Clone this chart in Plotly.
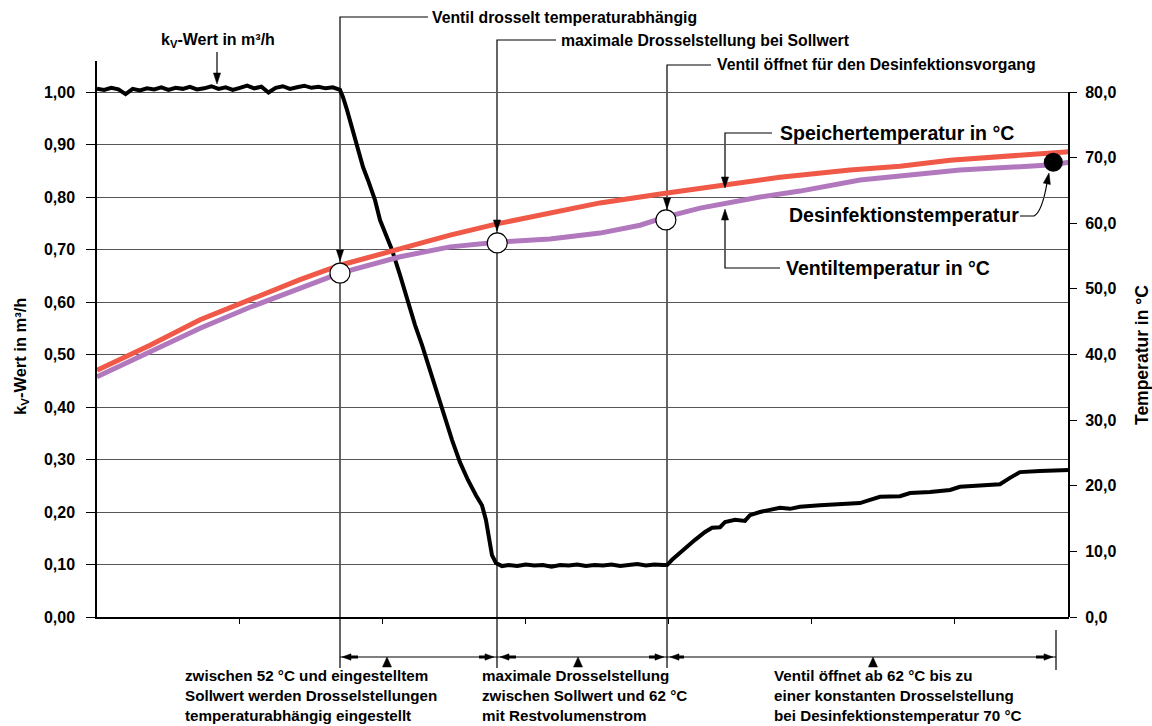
import plotly.graph_objects as go

# ---------------- data ----------------
# kv-value of the valve (left axis, m³/h) over time (arbitrary units)
kv_t = [0.0, 0.5, 1.0, 1.5, 2.0, 2.5, 3.0, 3.5, 4.0, 4.5, 5.0, 5.5, 6.0, 6.5, 7.0, 7.5,
        8.0, 8.5, 9.0, 9.5, 10.0, 10.5, 11.0, 11.5, 12.0, 12.5, 13.0, 13.5, 14.0, 14.5,
        15.0, 15.5, 16.0, 16.5, 17.0,
        17.21, 17.49, 17.84, 18.26, 18.61, 18.96, 19.45, 19.80, 20.29, 20.64, 21.20,
        21.69, 22.25, 22.74, 23.30, 23.86, 24.35, 24.84, 25.39, 25.95, 26.51, 26.93,
        27.21, 27.42, 27.63, 27.91, 28.33,
        28.8, 29.4, 30.0, 30.6, 31.2, 31.8, 32.4, 33.0, 33.6, 34.2, 34.8, 35.4, 36.0,
        36.6, 37.2, 37.8, 38.4, 39.0, 39.6,
        39.88, 40.23, 40.79, 41.35, 41.84, 42.54, 43.03, 43.59, 43.94, 44.64, 45.33,
        45.68, 46.38, 47.08, 47.78, 48.48, 49.18, 50.58, 51.98, 53.38, 54.08, 54.78,
        56.18, 56.88, 58.28, 59.68, 60.37, 61.77, 63.17, 63.87, 64.57, 65.97, 68.0]
kv_val = [1.006, 1.004, 1.008, 1.005, 0.996, 1.006, 1.003, 1.007, 1.005, 1.009, 1.004,
          1.008, 1.006, 1.010, 1.005, 1.007, 1.011, 1.006, 1.009, 1.004, 1.008, 1.012,
          1.007, 1.010, 0.999, 1.008, 1.011, 1.006, 1.009, 1.012, 1.008, 1.010, 1.007,
          1.009, 1.004,
          0.990, 0.966, 0.933, 0.895, 0.857, 0.832, 0.794, 0.756, 0.724, 0.699, 0.651,
          0.604, 0.556, 0.518, 0.470, 0.423, 0.375, 0.337, 0.295, 0.261, 0.232, 0.213,
          0.185, 0.147, 0.118, 0.103, 0.097,
          0.099, 0.097, 0.100, 0.098, 0.099, 0.096, 0.099, 0.098, 0.100, 0.097, 0.099,
          0.098, 0.100, 0.097, 0.099, 0.101, 0.098, 0.100, 0.099,
          0.099, 0.109, 0.122, 0.137, 0.147, 0.162, 0.170, 0.171, 0.181, 0.185, 0.183,
          0.194, 0.200, 0.204, 0.208, 0.206, 0.210, 0.213, 0.215, 0.217, 0.223, 0.229,
          0.230, 0.236, 0.238, 0.242, 0.248, 0.250, 0.253, 0.265, 0.276, 0.278, 0.280]

# storage tank temperature (right axis, °C)
speicher_t = [0.0, 3.71, 7.21, 10.70, 14.20, 17.0, 21.20, 24.70, 27.98, 31.69, 35.19,
              39.88, 43.59, 47.78, 52.68, 56.18, 59.68, 63.17, 68.0]
speicher_temp = [37.6, 41.4, 45.3, 48.3, 51.4, 53.6, 56.2, 58.2, 59.9, 61.6, 63.1,
                 64.6, 65.8, 67.0, 68.1, 68.7, 69.6, 70.2, 70.9]

# valve temperature (right axis, °C)
ventil_t = [0.0, 3.71, 7.21, 10.70, 14.20, 17.0, 21.20, 24.70, 27.98, 31.69, 35.19,
            37.99, 39.88, 42.19, 46.38, 49.18, 53.38, 60.37, 66.88, 68.0]
ventil_temp = [36.6, 40.4, 44.0, 47.2, 50.1, 52.4, 54.9, 56.4, 57.1, 57.6, 58.5,
               59.7, 61.0, 62.3, 64.0, 64.9, 66.6, 68.1, 68.9, 69.3]

# characteristic points
punkt_t = [17.0, 28.0, 39.8]
punkt_temp = [52.4, 57.0, 60.5]
desinf_t = [66.9]
desinf_temp = [69.3]

kv_ticks = [0.0, 0.1, 0.2, 0.3, 0.4, 0.5, 0.6, 0.7, 0.8, 0.9, 1.0]
temp_ticks = [0, 10, 20, 30, 40, 50, 60, 70, 80]
time_ticks = [10, 20, 30, 40, 50, 60]

# ---------------- geometry helpers (layout only) ----------------
W, H = 1152, 726
ML, MR, MT, MB = 97, 83, 61, 109
PW, PH = W - ML - MR, H - MT - MB
Y0_PIX, Y1_PIX = H - MB, 92            # pixel rows of kv 0,00 and 1,00
KV_TOP = (Y0_PIX - MT) / (Y0_PIX - Y1_PIX)  # axis range top so that 1,00 sits at row 92
FONT = "Liberation Sans, Arial, Helvetica, sans-serif"


def px(x):
    return (x - ML) / PW


def py(y):
    return (H - MB - y) / PH


def seg(points, width=1.2, layer="below"):
    path = "M " + " L ".join(f"{px(x):.5f},{py(y):.5f}" for x, y in points)
    return dict(type="path", path=path, xref="paper", yref="paper",
                line=dict(color="black", width=width), layer=layer)


def head(tx, ty, dx, dy, length=11, half=3.6):
    n = (dx * dx + dy * dy) ** 0.5
    dx, dy = dx / n, dy / n
    bx, by = tx - dx * length, ty - dy * length
    nx, ny = -dy, dx
    pts = [(tx, ty), (bx + nx * half, by + ny * half), (bx - nx * half, by - ny * half)]
    path = "M " + " L ".join(f"{px(x):.5f},{py(y):.5f}" for x, y in pts) + " Z"
    return dict(type="path", path=path, xref="paper", yref="paper",
                fillcolor="black", line=dict(color="black", width=0.5), layer="above")


shapes = []
# right axis line (only up to 80,0)
shapes.append(seg([(1069, 617), (1069, 92)], width=2, layer="above"))
# top leader lines
shapes.append(seg([(428, 17), (340, 17), (340, 668)]))
shapes.append(seg([(556, 40), (497, 40), (497, 668)]))
shapes.append(seg([(711, 65), (667, 65), (667, 668)]))
shapes.append(seg([(772, 133), (725, 133), (725, 180)]))
shapes.append(seg([(780, 268), (725, 268), (725, 216)]))
shapes.append(seg([(217, 52), (217, 76)]))
shapes.append(dict(type="path",
                   path=f"M {px(1020):.5f},{py(216):.5f} L {px(1034):.5f},{py(216):.5f} "
                        f"Q {px(1042):.5f},{py(212):.5f} {px(1047):.5f},{py(183):.5f}",
                   xref="paper", yref="paper", line=dict(color="black", width=1.2),
                   layer="below"))
# arrow heads of the leaders
shapes += [head(340, 261, 0, 1), head(497, 231, 0, 1), head(667, 209, 0, 1),
           head(725, 188, 0, 1), head(725, 209, 0, -1), head(217, 84, 0, 1),
           head(1049, 173, 0.2, -1)]
# bottom brackets
shapes.append(seg([(340, 657), (1056, 657)]))
shapes.append(seg([(1056, 630), (1056, 670)]))
for x0, x1 in [(351, 358), (479, 487), (508, 516), (649, 657), (676, 684), (1036, 1044)]:
    shapes.append(seg([(x0, 657), (x1, 657)], width=3))
shapes += [head(342, 657, -1, 0, 9, 3.2), head(494, 657, 1, 0, 9, 3.2),
           head(500, 657, -1, 0, 9, 3.2), head(664, 657, 1, 0, 9, 3.2),
           head(670, 657, -1, 0, 9, 3.2), head(1053, 657, 1, 0, 9, 3.2)]
shapes += [head(387, 657, 0, -1, 10, 4.5), head(578, 657, 0, -1, 10, 4.5),
           head(873, 657, 0, -1, 10, 4.5)]


def note(text, x, y, size=16, xanchor="left", yanchor="middle", align="left", angle=0):
    return dict(text=text, x=px(x), y=py(y), xref="paper", yref="paper",
                xanchor=xanchor, yanchor=yanchor, align=align, showarrow=False,
                textangle=angle, font=dict(family=FONT, size=size, color="black",
                                           weight="bold"))


annotations = [
    note("k<sub>V</sub>-Wert in m³/h", 218, 40, 16, xanchor="center"),
    note("Ventil drosselt temperaturabhängig", 430, 17, 15.8),
    note("maximale Drosselstellung bei Sollwert", 559, 40, 15.8),
    note("Ventil öffnet für den Desinfektionsvorgang", 715, 65, 15.8),
    note("Speichertemperatur in °C", 778, 133, 19.5),
    note("Desinfektionstemperatur", 787, 215, 19.5),
    note("Ventiltemperatur in °C", 784, 268, 19.5),
    note("zwischen 52 °C und eingestelltem<br>Sollwert werden Drosselstellungen<br>"
         "temperaturabhängig eingestellt", 183, 665, 15.2, yanchor="top"),
    note("maximale Drosselstellung<br>zwischen Sollwert und 62 °C<br>mit Restvolumenstrom",
         480, 665, 15.2, yanchor="top"),
    note("Ventil öffnet ab 62 °C bis zu<br>einer konstanten Drosselstellung<br>"
         "bei Desinfektionstemperatur 70 °C", 772, 665, 15.2, yanchor="top"),
    note("k<sub>V</sub>-Wert in m³/h", 21, 357, 16.5, xanchor="center", angle=-90),
    note("Temperatur in °C", 1142, 355, 17.5, xanchor="center", angle=-90),
]

# ---------------- figure ----------------
fig = go.Figure()
fig.add_trace(go.Scatter(x=ventil_t, y=ventil_temp, yaxis="y2", mode="lines",
                         name="Ventiltemperatur",
                         line=dict(color="rgb(178,120,190)", width=5)))
fig.add_trace(go.Scatter(x=speicher_t, y=speicher_temp, yaxis="y2", mode="lines",
                         name="Speichertemperatur",
                         line=dict(color="rgb(240,88,72)", width=5)))
fig.add_trace(go.Scatter(x=kv_t, y=kv_val, yaxis="y", mode="lines", name="kV-Wert",
                         line=dict(color="black", width=4)))
fig.add_trace(go.Scatter(x=punkt_t, y=punkt_temp, yaxis="y2", mode="markers",
                         name="Punkte", cliponaxis=False,
                         marker=dict(color="white", size=20,
                                     line=dict(color="black", width=1.2))))
fig.add_trace(go.Scatter(x=desinf_t, y=desinf_temp, yaxis="y2", mode="markers",
                         name="Desinfektionstemperatur", cliponaxis=False,
                         marker=dict(color="black", size=19)))

tickfont = dict(family=FONT, size=16, color="black", weight="bold")
fig.update_layout(
    width=W, height=H, autosize=False,
    margin=dict(l=ML, r=MR, t=MT, b=MB, pad=0),
    paper_bgcolor="white", plot_bgcolor="rgba(0,0,0,0)",
    showlegend=False, separators=",.",
    font=dict(family=FONT, color="black"),
    xaxis=dict(range=[0, 68], tickvals=time_ticks, showticklabels=False,
               ticks="outside", ticklen=5, tickwidth=1.2, tickcolor="black",
               showgrid=False, zeroline=False, showline=True,
               linecolor="black", linewidth=2),
    yaxis=dict(range=[0, KV_TOP], tickvals=kv_ticks, tickformat=".2f", tickfont=tickfont,
               ticks="outside", ticklen=9, tickwidth=1.3, tickcolor="black",
               ticklabelstandoff=8,
               showgrid=True, gridcolor="#555555", gridwidth=1, zeroline=False,
               showline=True, linecolor="black", linewidth=1.5),
    yaxis2=dict(range=[0, 80 * KV_TOP], tickvals=temp_ticks, tickformat=".1f",
                tickfont=tickfont, overlaying="y", side="right", ticks="outside",
                ticklen=7, tickwidth=1.3, tickcolor="black", ticklabelstandoff=5,
                showgrid=False, zeroline=False, showline=False),
    shapes=shapes,
    annotations=annotations,
)

fig.write_html("out.html")
